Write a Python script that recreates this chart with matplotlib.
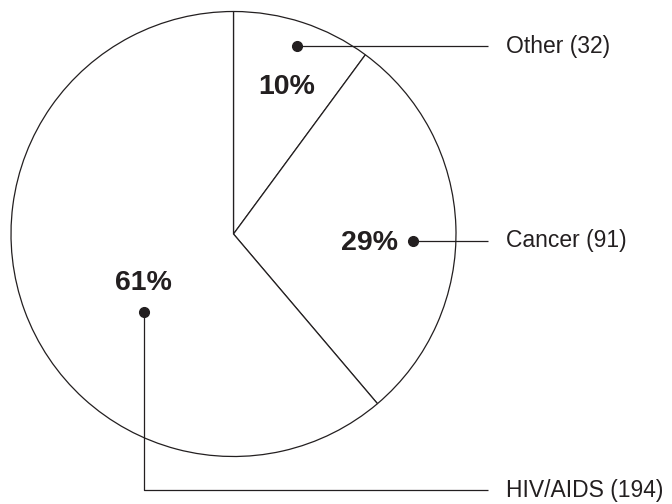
import matplotlib
matplotlib.use("Agg")
import matplotlib.pyplot as plt

plt.rcParams['font.family'] = ['Liberation Sans', 'DejaVu Sans']

# Causes and counts
labels = ["Other", "Cancer", "HIV/AIDS"]
counts = [32, 91, 194]

ink = '#231f20'
W, H = 672, 504

fig = plt.figure(figsize=(6.72, 5.04), dpi=100)
ax = fig.add_axes([0, 0, 1, 1])

# pie, starting at twelve o'clock and going clockwise
cx, cy, r = 233.5, H - 234, 222.5
ax.pie(counts, startangle=90, counterclock=False, center=(cx, cy), radius=r,
       colors=['white'] * len(counts), frame=True,
       wedgeprops=dict(edgecolor=ink, linewidth=0.9))

total = sum(counts)
pct = [round(100 * c / total) for c in counts]

# label layout in pixels from top-left: percent text, dot, leader path, name text
pct_xy = [(287, 87), (370, 243), (143, 283)]
dots = [(297, 46), (413, 241), (144, 312)]
paths = [
    [(297, 46), (488, 46)],
    [(413, 241), (488, 241)],
    [(144, 312), (144, 490), (488, 490)],
]
name_xy = [(506, 46), (506, 241), (506, 490)]

for i in range(len(counts)):
    px, py = pct_xy[i]
    ax.text(px, H - py, f"{pct[i]}%", fontsize=20.5, fontweight='bold',
            color=ink, ha='center', va='center')
    xs = [p[0] for p in paths[i]]
    ys = [H - p[1] for p in paths[i]]
    ax.plot(xs, ys, color=ink, linewidth=0.9, solid_capstyle='butt')
    dx, dy = dots[i]
    ax.plot(dx, H - dy, 'o', color=ink, markersize=7)
    nx, ny = name_xy[i]
    ax.text(nx, H - ny, f"{labels[i]} ({counts[i]})", fontsize=16.5,
            color=ink, ha='left', va='center')

ax.set_xlim(0, W)
ax.set_ylim(0, H)
ax.set_aspect('auto')
ax.axis('off')

fig.savefig('out.png', dpi=100)
